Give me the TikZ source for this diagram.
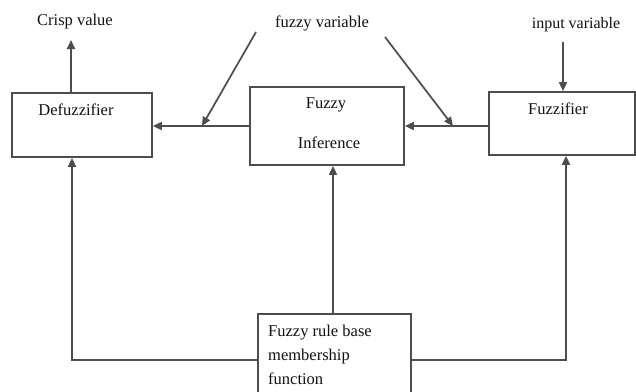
\documentclass[tikz,border=0pt]{standalone}
\usepackage{fontspec}
\setmainfont{Liberation Serif}
\usetikzlibrary{arrows.meta}
\definecolor{ln}{HTML}{4D4D4D}
\definecolor{tx}{HTML}{111111}
\begin{document}
\begin{tikzpicture}[x=1pt,y=-1pt,
  box/.style={draw=ln,line width=1.7pt,rectangle,inner sep=0pt},
  lbl/.style={text=tx,font=\fontsize{16.5}{20}\selectfont,inner sep=0pt},
  arr/.style={draw=ln,line width=1.7pt,-{Triangle[length=9pt,width=8pt]}},
  ln/.style={draw=ln,line width=1.7pt}]
\useasboundingbox (0,0) rectangle (636,391);
\clip (0,0) rectangle (636,391);
\fill[white] (0,0) rectangle (636,391);
% boxes
\node[box,minimum width=140pt,minimum height=64pt] (defuz) at (82,125) {};
\node[box,minimum width=154pt,minimum height=78pt] (infer) at (327,126) {};
\node[box,minimum width=146pt,minimum height=63pt] (fuzzifier) at (562,123.5) {};
\node[box,minimum width=153pt,minimum height=82pt] (rule) at (334.5,355) {};
% labels
\node[lbl] (tdefuz) at (76,110) {Defuzzifier};
\node[lbl] (tfuzzy) at (326,105) {Fuzzy};
\node[lbl] (tinfer) at (329,143) {Inference};
\node[lbl] (tfuzzifier) at (558,109) {Fuzzifier};
\node[lbl,anchor=west] (r1) at (268,333) {Fuzzy rule base};
\node[lbl,anchor=west] (r2) at (268,357) {membership};
\node[lbl,anchor=west] (r3) at (268,379) {function};
\node[lbl] (crisp) at (75,22) {Crisp value};
\node[lbl] (fvar) at (322,23) {fuzzy variable};
\node[lbl,font=\fontsize{16}{20}\selectfont] (ivar) at (576,25) {input variable};
% coordinates
\coordinate (cr) at (71,40);
\coordinate (fv1) at (256,32);
\coordinate (m1) at (202,126);
\coordinate (fv2) at (385,37);
\coordinate (m2) at (453,126);
\coordinate (iv) at (563,42);
\coordinate (bl) at (72,360);
\coordinate (br) at (566,360);
\coordinate (mid) at (333,0);
% connectors
\draw[arr] (cr |- defuz.north) -- (cr);
\draw[arr] (infer.west) -- (defuz.east |- infer.west);
\draw[arr] (fuzzifier.west |- infer.east) -- (infer.east);
\draw[arr] (fv1) -- (m1);
\draw[arr] (fv2) -- (m2);
\draw[arr] (iv) -- (iv |- fuzzifier.north);
\draw[arr] (rule.west |- bl) -- (bl) -- (bl |- defuz.south);
\draw[arr] (rule.east |- br) -- (br) -- (br |- fuzzifier.south);
\draw[arr] (mid |- rule.north) -- (mid |- infer.south);
\end{tikzpicture}
\end{document}
